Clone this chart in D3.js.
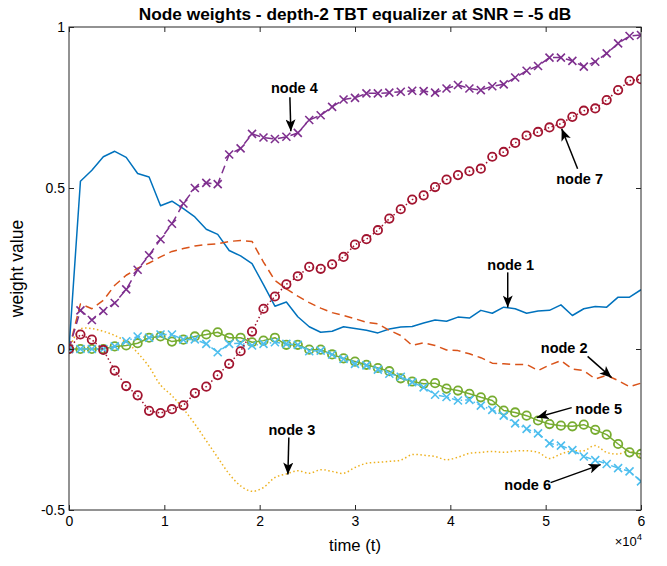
<!DOCTYPE html>
<html>
<head>
<meta charset="utf-8">
<script src="https://cdn.jsdelivr.net/npm/d3@7"></script>
<style>
  html, body { margin: 0; padding: 0; background: #ffffff; }
  svg { display: block; font-family: "Liberation Sans", Arial, Helvetica, sans-serif; }
</style>
</head>
<body>
<svg id="chart" width="667" height="566"></svg>
<script>
// ---------------- DATA ----------------
const time = [0,1200,2400,3600,4800,6000,7200,8400,9600,10800,12000,13200,14400,15600,16800,18000,
  19200,20400,21600,22800,24000,25200,26400,27600,28800,30000,31200,32400,33600,34800,36000,37200,
  38400,39600,40800,42000,43200,44400,45600,46800,48000,49200,50400,51600,52800,54000,55200,56400,
  57600,58800,60000];

const node1 = [0,0.521,0.555,0.597,0.614,0.595,0.545,0.534,0.445,0.459,0.436,0.410,0.372,0.356,0.306,0.289,
  0.265,0.200,0.133,0.146,0.100,0.069,0.052,0.055,0.069,0.064,0.058,0.050,0.062,0.068,0.070,0.081,
  0.090,0.086,0.099,0.096,0.120,0.111,0.130,0.125,0.111,0.118,0.120,0.137,0.104,0.125,0.132,0.130,
  0.161,0.161,0.184];

const node2 = [0,0.140,0.125,0.151,0.198,0.229,0.251,0.267,0.286,0.303,0.312,0.320,0.324,0.327,0.334,0.337,
  0.334,0.270,0.213,0.187,0.164,0.144,0.127,0.113,0.104,0.094,0.083,0.078,0.058,0.042,0.011,0.019,
  0.011,-0.003,-0.005,-0.015,-0.027,-0.044,-0.046,-0.048,-0.048,-0.067,-0.050,-0.036,-0.062,-0.067,-0.093,-0.082,
  -0.098,-0.117,-0.106];

const node3 = [0,0.062,0.063,0.055,0.042,0.022,-0.012,-0.055,-0.112,-0.145,-0.186,-0.233,-0.285,-0.337,-0.388,-0.425,
  -0.442,-0.430,-0.399,-0.388,-0.378,-0.386,-0.375,-0.380,-0.386,-0.368,-0.355,-0.352,-0.349,-0.345,-0.328,-0.330,
  -0.334,-0.344,-0.336,-0.324,-0.321,-0.318,-0.321,-0.317,-0.316,-0.321,-0.340,-0.326,-0.316,-0.316,-0.300,-0.321,
  -0.326,-0.317,-0.336];

const node4 = [0,0.120,0.090,0.118,0.143,0.185,0.246,0.291,0.341,0.389,0.452,0.500,0.516,0.512,0.604,0.623,
  0.668,0.657,0.652,0.659,0.671,0.711,0.726,0.752,0.775,0.780,0.794,0.794,0.796,0.799,0.802,0.801,
  0.796,0.809,0.820,0.809,0.804,0.816,0.822,0.843,0.864,0.879,0.905,0.905,0.895,0.877,0.892,0.918,
  0.949,0.972,0.975];

const node5 = [0,0,0,0,0.008,0.011,0.018,0.035,0.039,0.023,0.029,0.039,0.045,0.052,0.035,0.035,
  0.021,0.026,0.035,0.013,0.013,-0.002,-0.002,-0.017,-0.029,-0.039,-0.049,-0.059,-0.069,-0.091,-0.101,-0.108,
  -0.106,-0.123,-0.129,-0.139,-0.150,-0.160,-0.191,-0.197,-0.207,-0.222,-0.233,-0.238,-0.240,-0.235,-0.251,-0.266,
  -0.295,-0.321,-0.326];

const node6 = [0,0,0,0,0.008,0.024,0.039,0.035,0.045,0.045,0.029,0.030,0.016,-0.010,0.016,0.018,
  0.011,0.016,0.021,0.016,0.013,-0.007,-0.005,-0.017,-0.031,-0.046,-0.051,-0.064,-0.077,-0.086,-0.103,-0.119,
  -0.142,-0.149,-0.160,-0.158,-0.176,-0.189,-0.207,-0.231,-0.248,-0.262,-0.293,-0.300,-0.314,-0.334,-0.345,-0.357,
  -0.370,-0.380,-0.411];

const node7 = [0,0.045,0.029,-0.003,-0.067,-0.115,-0.144,-0.192,-0.199,-0.187,-0.175,-0.137,-0.117,-0.081,-0.046,-0.007,
  0.054,0.125,0.163,0.201,0.226,0.255,0.249,0.263,0.286,0.324,0.341,0.369,0.405,0.434,0.464,0.477,
  0.503,0.526,0.540,0.552,0.560,0.597,0.612,0.640,0.663,0.674,0.688,0.700,0.721,0.740,0.747,0.773,
  0.804,0.833,0.838];

const xTicks = [0,10000,20000,30000,40000,50000,60000];
const xTickLabels = ["0","1","2","3","4","5","6"];
const yTicks = [-0.5,0,0.5,1];
const yTickLabels = ["-0.5","0","0.5","1"];

const titleText = "Node weights - depth-2 TBT equalizer at SNR = -5 dB";
const xLabelText = "time (t)";
const yLabelText = "weight value";

// annotation: label, text position (t, value), arrow start, arrow end
const annLabels = ["node 4","node 7","node 1","node 2","node 5","node 6","node 3"];
const annText  = [[23640,0.812],[53560,0.529],[46330,0.260],[51940,0.002],[55560,-0.185],[48110,-0.421],[23380,-0.250]];
const annFrom  = [[23170,0.782],[53350,0.560],[46020,0.238],[54400,-0.023],[52730,-0.182],[50520,-0.415],[23060,-0.275]];
const annTo    = [[23270,0.676],[51680,0.684],[46020,0.129],[56920,-0.089],[49060,-0.213],[55770,-0.359],[22960,-0.390]];

// ---------------- STYLES ----------------
const series = [
  {vals: node1, color: "#0072BD", dash: null,           marker: null},
  {vals: node2, color: "#D95319", dash: "8,5",          marker: null},
  {vals: node3, color: "#EDB120", dash: "1.5,2.5",      marker: null, smooth: true},
  {vals: node4, color: "#7E2F8E", dash: "8,5",          marker: "x"},
  {vals: node5, color: "#77AC30", dash: null,           marker: "o"},
  {vals: node6, color: "#4DBEEE", dash: "6,3,1.5,3",    marker: "x"},
  {vals: node7, color: "#A2142F", dash: "1.5,2.5",      marker: "o"}
];

// ---------------- CHART ----------------
const W = 667, H = 566;
const margin = {left: 69, right: 26, top: 27, bottom: 56};
const svg = d3.select("#chart");

const x = d3.scaleLinear().domain([0, 60000]).range([margin.left, W - margin.right]);
const y = d3.scaleLinear().domain([-0.5, 1]).range([H - margin.bottom, margin.top]);

const axisColor = "#262626";

svg.append("defs").append("clipPath").attr("id","clip")
  .append("rect").attr("x", x(0)).attr("y", y(1)).attr("width", x(60000)-x(0)).attr("height", y(-0.5)-y(1));

const plot = svg.append("g").attr("clip-path","url(#clip)");

series.forEach(s => {
  const pts = time.map((t,i) => [t, s.vals[i]]);
  const line = d3.line().x(d => x(d[0])).y(d => y(d[1]))
    .curve(s.smooth ? d3.curveCatmullRom.alpha(0.5) : d3.curveLinear);
  plot.append("path").attr("d", line(pts))
    .attr("fill","none").attr("stroke", s.color).attr("stroke-width", 1.5)
    .attr("stroke-dasharray", s.dash).attr("stroke-linejoin","round");
  if (s.marker === "o") {
    plot.append("g").selectAll("circle").data(pts).join("circle")
      .attr("cx", d => x(d[0])).attr("cy", d => y(d[1])).attr("r", 4.2)
      .attr("fill","none").attr("stroke", s.color).attr("stroke-width", 1.8);
  } else if (s.marker === "x") {
    const r = 4;
    plot.append("g").selectAll("path").data(pts).join("path")
      .attr("d", d => {
        const cx = x(d[0]), cy = y(d[1]);
        return `M${cx-r},${cy-r}L${cx+r},${cy+r}M${cx-r},${cy+r}L${cx+r},${cy-r}`;
      })
      .attr("fill","none").attr("stroke", s.color).attr("stroke-width", 1.6);
  }
});

// axes box
svg.append("rect").attr("x", x(0)).attr("y", y(1)).attr("width", x(60000)-x(0)).attr("height", y(-0.5)-y(1))
  .attr("fill","none").attr("stroke", axisColor).attr("stroke-width", 1);

const tl = 5;
const xAxisB = d3.axisBottom(x).tickValues(xTicks).tickSizeInner(-tl).tickSizeOuter(0)
  .tickPadding(6).tickFormat((d,i) => xTickLabels[i]);
const gxb = svg.append("g").attr("transform", `translate(0,${y(-0.5)})`).call(xAxisB);
const xAxisT = d3.axisTop(x).tickValues(xTicks).tickSizeInner(-tl).tickSizeOuter(0).tickFormat("");
const gxt = svg.append("g").attr("transform", `translate(0,${y(1)})`).call(xAxisT);
const yAxisL = d3.axisLeft(y).tickValues(yTicks).tickSizeInner(-tl).tickSizeOuter(0)
  .tickPadding(4).tickFormat((d,i) => yTickLabels[i]);
const gyl = svg.append("g").attr("transform", `translate(${x(0)},0)`).call(yAxisL);
const yAxisR = d3.axisRight(y).tickValues(yTicks).tickSizeInner(-tl).tickSizeOuter(0).tickFormat("");
const gyr = svg.append("g").attr("transform", `translate(${x(60000)},0)`).call(yAxisR);

[gxb,gxt,gyl,gyr].forEach(g => {
  g.select(".domain").remove();
  g.selectAll(".tick line").attr("stroke", axisColor).attr("stroke-width", 1);
  g.selectAll(".tick text").attr("fill", "#000").attr("font-size", 14)
    .attr("font-family", "'Liberation Sans', Arial, sans-serif");
});

// title
svg.append("text").attr("x", (x(0)+x(60000))/2).attr("y", 20)
  .attr("text-anchor","middle").attr("font-weight","bold").attr("font-size", 17.3)
  .attr("fill","#000").text(titleText);

// x label
svg.append("text").attr("x", (x(0)+x(60000))/2).attr("y", 551)
  .attr("text-anchor","middle").attr("font-size", 16.7).attr("fill","#000").text(xLabelText);

// x10^4 exponent
const ex = svg.append("text").attr("x", x(60000)+1).attr("y", 546)
  .attr("text-anchor","end").attr("font-size", 13).attr("fill","#000");
ex.append("tspan").text("\u00D710");
ex.append("tspan").attr("dy", -6).attr("font-size", 9.5).text("4");

// y label
svg.append("text").attr("transform", `translate(23,${(y(1)+y(-0.5))/2}) rotate(-90)`)
  .attr("text-anchor","middle").attr("font-size", 17.5).attr("fill","#000").text(yLabelText);

// annotations
svg.append("defs").append("marker").attr("id","ah")
  .attr("viewBox","0 0 12 10").attr("refX", 12).attr("refY", 5)
  .attr("markerWidth", 12).attr("markerHeight", 10).attr("markerUnits","userSpaceOnUse")
  .attr("orient","auto")
  .append("path").attr("d","M0,0 L12,5 L0,10 L3,5 Z").attr("fill","#000");

const annG = svg.append("g");
annLabels.forEach((lab, i) => {
  annG.append("line")
    .attr("x1", x(annFrom[i][0])).attr("y1", y(annFrom[i][1]))
    .attr("x2", x(annTo[i][0])).attr("y2", y(annTo[i][1]))
    .attr("stroke","#000").attr("stroke-width", 1.5).attr("marker-end","url(#ah)");
  annG.append("text").attr("x", x(annText[i][0])).attr("y", y(annText[i][1]))
    .attr("text-anchor","middle").attr("dominant-baseline","central")
    .attr("font-weight","bold").attr("font-size", 14.5).attr("fill","#000").text(lab);
});
</script>
</body>
</html>
